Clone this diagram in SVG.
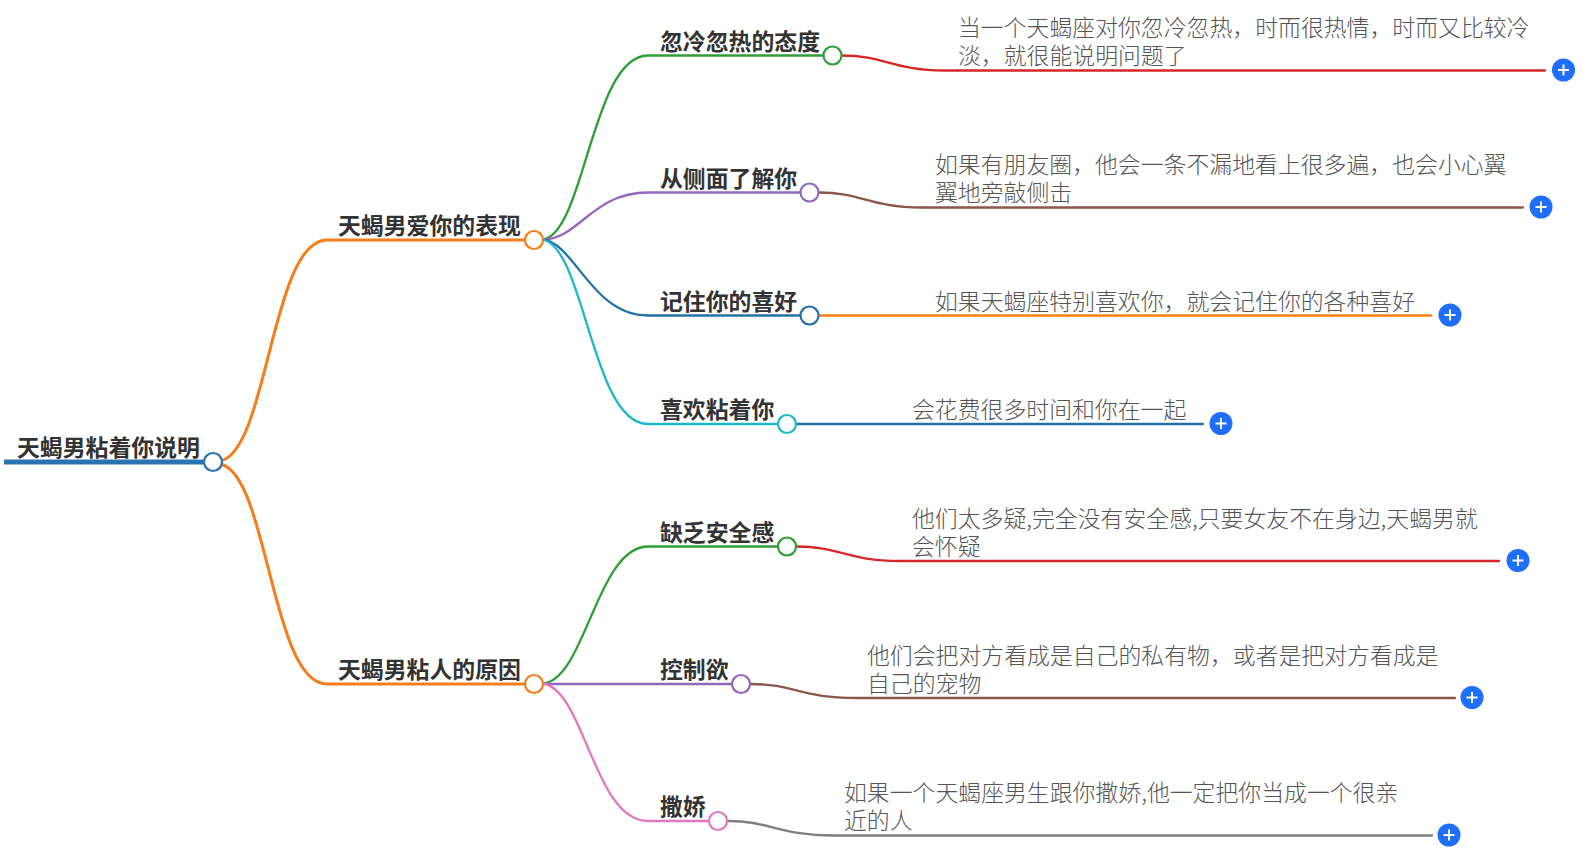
<svg xmlns="http://www.w3.org/2000/svg" width="1592" height="854" viewBox="0 0 1592 854">
<style>
text{font-family:"Noto Sans CJK SC","Noto Sans",sans-serif;font-size:22.87px}
.t{font-weight:700;fill:#333}
.d{font-weight:300;fill:#555}
.c{fill:none;stroke-width:2.300;stroke-linecap:round}
.m{stroke-width:3}
.n{fill:#fff;stroke-width:2.200}
.p{fill:#1f6fff}
.w{stroke:#fff;stroke-width:2;fill:none}
</style>
<rect width="1592" height="854" fill="#fff"/>
<g id="connectors" transform="translate(0 .5)">
<path class="c" d="M4 461.500H204" stroke="#2a73b0" style="stroke-width:5;stroke-linecap:butt"/>
<path class="c m" stroke="#f57d1c" d="M222 460C268 446 272 239.500 327 239.500H525"/>
<path class="c m" stroke="#f57d1c" d="M222 464C268 478 272 683.500 327 683.500H525"/>
<path class="c" stroke="#2e9e36" d="M543 239C585 232 592 55 648 55H823"/>
<path class="c" stroke="#9467bd" d="M543 239C580 238 592 192 648 192H800"/>
<path class="c" stroke="#2272a8" d="M543 239C575 243 592 315 648 315H800"/>
<path class="c" stroke="#1fb8c8" d="M543 239C585 248 592 423.500 648 423.500H778"/>
<path class="c" stroke="#2e9e36" d="M543 683C585 680 597 546 648 546H778"/>
<path class="c" stroke="#9467bd" d="M543 683.500H732"/>
<path class="c" stroke="#e377c2" d="M543 683C585 690 594 820.500 648 820.500H709"/>
<path class="c" stroke="#d62728" d="M842 55C885 55 892 70 945 70H1545"/>
<path class="c" stroke="#8c564b" d="M819 192C862 192 869 207 922 207H1523"/>
<path class="c" stroke="#ff7f0e" d="M819 315H1431"/>
<path class="c" stroke="#2272a8" d="M797 423.500H1203"/>
<path class="c" stroke="#d62728" d="M797 546C840 546 847 560.500 900 560.500H1499"/>
<path class="c" stroke="#8c564b" d="M751 683.500C794 683.500 801 697.500 856 697.500H1455"/>
<path class="c" stroke="#7f7f7f" d="M728 820.500C771 820.500 778 835 834 835H1432"/>
</g>
<g id="root"><text class="t" x="17" y="456">天蝎男粘着你说明</text><circle class="n" stroke="#2a73b0" cx="213" cy="462" r="9"/></g>
<g id="n1"><text class="t" x="338" y="234">天蝎男爱你的表现</text><circle class="n" stroke="#f57d1c" cx="534" cy="240" r="9"/></g>
<g id="n2"><text class="t" x="338" y="678">天蝎男粘人的原因</text><circle class="n" stroke="#f57d1c" cx="534" cy="684" r="9"/></g>
<g id="a1"><text class="t" x="660" y="50">忽冷忽热的态度</text><circle class="n" stroke="#2e9e36" cx="832.500" cy="55.500" r="9"/></g>
<g id="a2"><text class="t" x="660" y="187">从侧面了解你</text><circle class="n" stroke="#9467bd" cx="809.500" cy="192.500" r="9"/></g>
<g id="a3"><text class="t" x="660" y="310">记住你的喜好</text><circle class="n" stroke="#2272a8" cx="809.500" cy="315.500" r="9"/></g>
<g id="a4"><text class="t" x="660" y="418">喜欢粘着你</text><circle class="n" stroke="#1fb8c8" cx="787" cy="424" r="9"/></g>
<g id="b1"><text class="t" x="660" y="541">缺乏安全感</text><circle class="n" stroke="#2e9e36" cx="787" cy="546.500" r="9"/></g>
<g id="b2"><text class="t" x="660" y="678">控制欲</text><circle class="n" stroke="#9467bd" cx="741" cy="684" r="9"/></g>
<g id="b3"><text class="t" x="660" y="815">撒娇</text><circle class="n" stroke="#e377c2" cx="718" cy="821" r="9"/></g>
<g id="d1"><text class="d" x="958" y="36">当一个天蝎座对你忽冷忽热，时而很热情，时而又比较冷<tspan x="958" dy="28">淡，就很能说明问题了</tspan></text><circle class="p" cx="1563.500" cy="70" r="11.500"/><path class="w" d="M1558 70h11M1563.500 64.500v11"/></g>
<g id="d2"><text class="d" x="935" y="173">如果有朋友圈，他会一条不漏地看上很多遍，也会小心翼<tspan x="935" dy="28">翼地旁敲侧击</tspan></text><circle class="p" cx="1541" cy="207" r="11.500"/><path class="w" d="M1535.500 207h11M1541 201.500v11"/></g>
<g id="d3"><text class="d" x="935" y="310">如果天蝎座特别喜欢你，就会记住你的各种喜好</text><circle class="p" cx="1450" cy="315" r="11.500"/><path class="w" d="M1444.500 315h11M1450 309.500v11"/></g>
<g id="d4"><text class="d" x="912" y="418">会花费很多时间和你在一起</text><circle class="p" cx="1221" cy="423.500" r="11.500"/><path class="w" d="M1215.500 423.500h11M1221 418v11"/></g>
<g id="e1"><text class="d" x="912" y="527">他们太多疑,完全没有安全感,只要女友不在身边,天蝎男就<tspan x="912" dy="28">会怀疑</tspan></text><circle class="p" cx="1518" cy="560.500" r="11.500"/><path class="w" d="M1512.500 560.500h11M1518 555v11"/></g>
<g id="e2"><text class="d" x="867" y="664">他们会把对方看成是自己的私有物，或者是把对方看成是<tspan x="867" dy="28">自己的宠物</tspan></text><circle class="p" cx="1472" cy="697.500" r="11.500"/><path class="w" d="M1466.500 697.500h11M1472 692v11"/></g>
<g id="e3"><text class="d" x="844" y="801">如果一个天蝎座男生跟你撒娇,他一定把你当成一个很亲<tspan x="844" dy="28">近的人</tspan></text><circle class="p" cx="1449" cy="835" r="11.500"/><path class="w" d="M1443.500 835h11M1449 829.500v11"/></g>
</svg>
